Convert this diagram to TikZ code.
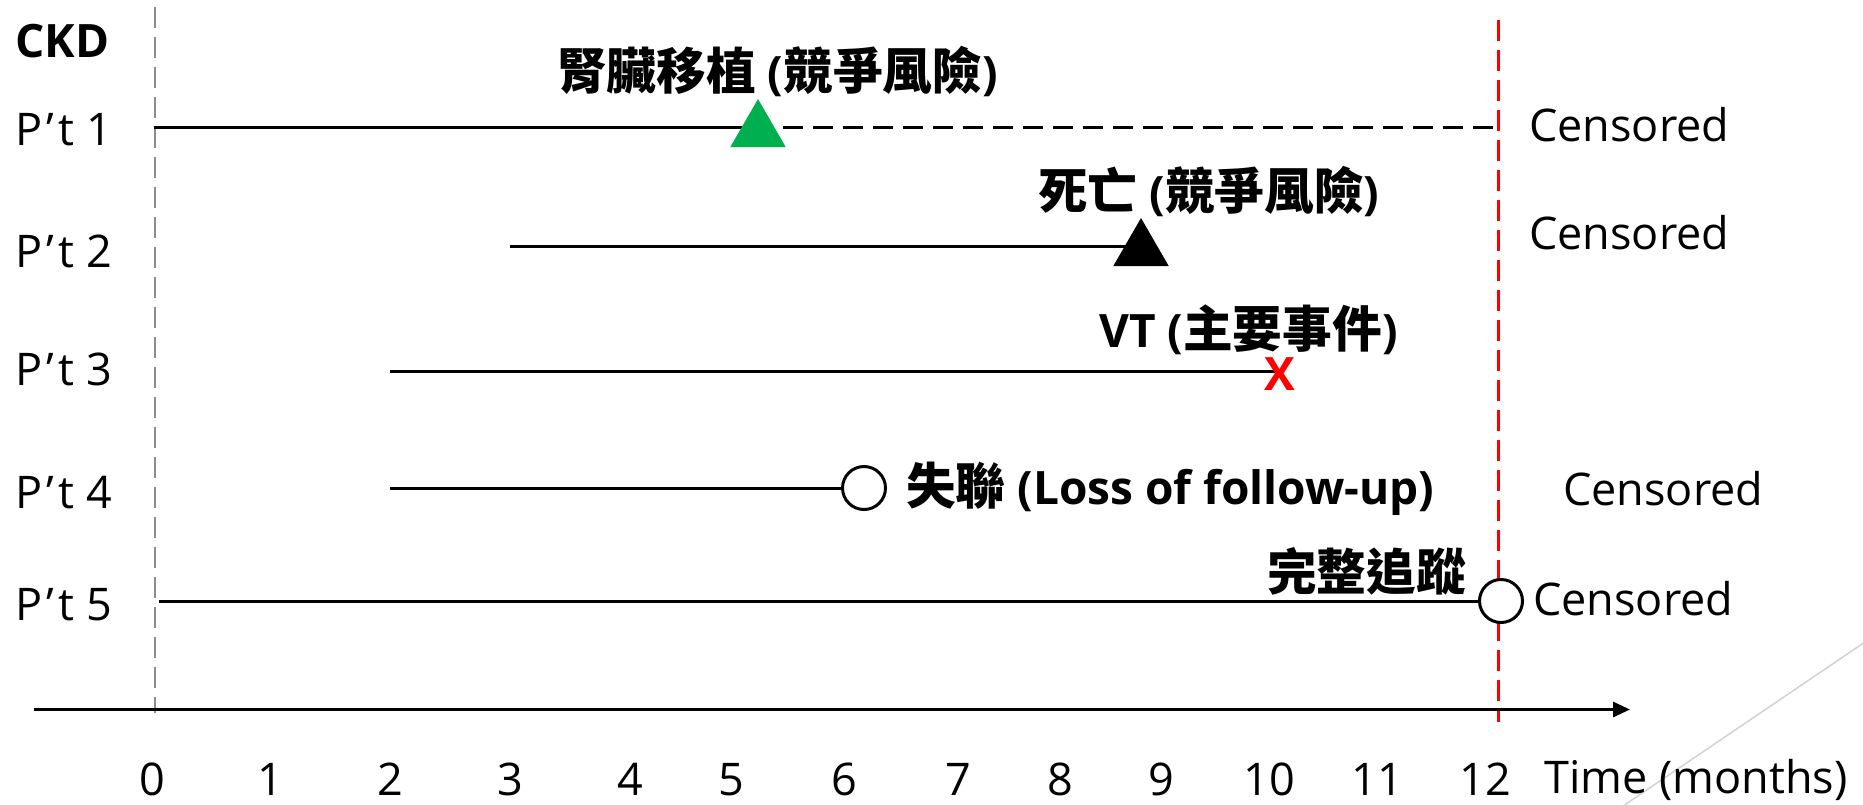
\documentclass[tikz,border=0pt]{standalone}
\usepackage{fontspec}
\setmainfont{Open Sans}
\newfontfamily\cjk[Scale=1.08]{Noto Sans CJK TC}
\usetikzlibrary{shapes.geometric,arrows.meta,backgrounds}
\definecolor{pptgreen}{HTML}{00B050}
\definecolor{guidegray}{HTML}{8C8C8C}
\definecolor{decogray}{HTML}{D2D2D2}
\newcommand{\ptlabel}[1]{P\kern4pt’\kern5pt t #1}
\begin{document}
\begin{tikzpicture}[x=1pt,y=-1pt,
  lbl/.style={inner sep=0pt, anchor=base west, font=\fontsize{45}{54}\selectfont},
  blbl/.style={inner sep=0pt, anchor=base west, font=\fontsize{46}{54}\selectfont\bfseries},
  ticklbl/.style={inner sep=0pt, anchor=base, font=\fontsize{45}{54}\selectfont},
  lifeline/.style={line width=3pt, black},
  tri/.style={regular polygon, regular polygon sides=3, minimum size=64pt, inner sep=0pt},
  openmark/.style={circle, draw=black, line width=3pt, fill=white, minimum size=43pt, inner sep=0pt},
  dashguide/.style={dash pattern=on 21pt off 9pt},
]
\useasboundingbox (0,0) rectangle (1863,804);

% row labels
\node[blbl] (ckd) at (15,57) {CKD};
\node[lbl] (p1) at (15,145) {\ptlabel{1}};
\node[lbl] (p2) at (15,267) {\ptlabel{2}};
\node[lbl] (p3) at (15,385) {\ptlabel{3}};
\node[lbl] (p4) at (15,508) {\ptlabel{4}};
\node[lbl] (p5) at (15,620) {\ptlabel{5}};

% start points
\coordinate (s1) at (154,127);
\coordinate (s2) at (510,246);
\coordinate (s3) at (390,371);
\coordinate (s4) at (390,488);
\coordinate (s5) at (159,601);
\coordinate (e1) at (1494,127);

% markers
\node[tri, fill=pptgreen] (t1) at (758,131) {};
\node[tri, fill=black] (t2) at (1141,250) {};
\node[inner sep=0pt, anchor=base, text=red, font=\fontsize{46}{54}\selectfont\bfseries] (x3) at (1280,390) {X};
\node[openmark] (c4) at (864,488) {};
\node[openmark] (c5) at (1501,601) {};

% event labels
\node[blbl] (l1) at (557,89) {{\cjk 腎臟移植} ({\cjk 競爭風險})};
\node[blbl] (l2) at (1038,209) {{\cjk 死亡} ({\cjk 競爭風險})};
\node[blbl] (l3) at (1099,347) {VT ({\cjk 主要事件})};
\node[blbl] (l4) at (906,504) {{\cjk 失聯} (Loss of follow-up)};
\node[blbl, anchor=base east] (l5) at (1466,590) {\cjk 完整追蹤};

% censored labels
\node[lbl] (cs1) at (1529,141) {Censored};
\node[lbl] (cs2) at (1529,249) {Censored};
\node[lbl] (cs4) at (1563,505) {Censored};
\node[lbl] (cs5) at (1533,615) {Censored};

% axis labels
\foreach \v/\xx in {0/152,1/270,2/390,3/510,4/630,5/731,6/844,7/958,8/1060,9/1161,10/1269,11/1377,12/1485}
  \node[ticklbl] (tk\v) at (\xx,795) {\v};
\node[lbl] (tl) at (1544,793) {Time (months)};

% guides and axis
\coordinate (g0) at (155,7);
\coordinate (g1) at (155,713);
\coordinate (r0) at (1498,20);
\coordinate (r1) at (1498,722);
\coordinate (a0) at (34,709.5);
\coordinate (a1) at (1630,709.5);
\coordinate (d0) at (1623,806);
\coordinate (d1) at (1865,642);

\begin{scope}[on background layer]
  \draw[guidegray, line width=2.5pt, dashguide] (g0) -- (g1);
  \draw[red, line width=3pt, dashguide] (r0) -- (r1);
  \draw[line width=3pt, -{Triangle[length=17pt,width=15pt]}] (a0) -- (a1);
  \draw[lifeline] (s1) -- (t1.center |- s1);
  \draw[lifeline, dash pattern=on 20pt off 10pt, dash phase=5pt] (t1.center |- s1) -- (e1);
  \draw[lifeline] (s2) -- (t2.center |- s2);
  \draw[lifeline] (s3) -- (x3.center |- s3);
  \draw[lifeline] (s4) -- (c4.west);
  \draw[lifeline] (s5) -- (c5.west);
  \draw[decogray, line width=1.5pt] (d0) -- (d1);
\end{scope}
\end{tikzpicture}
\end{document}
